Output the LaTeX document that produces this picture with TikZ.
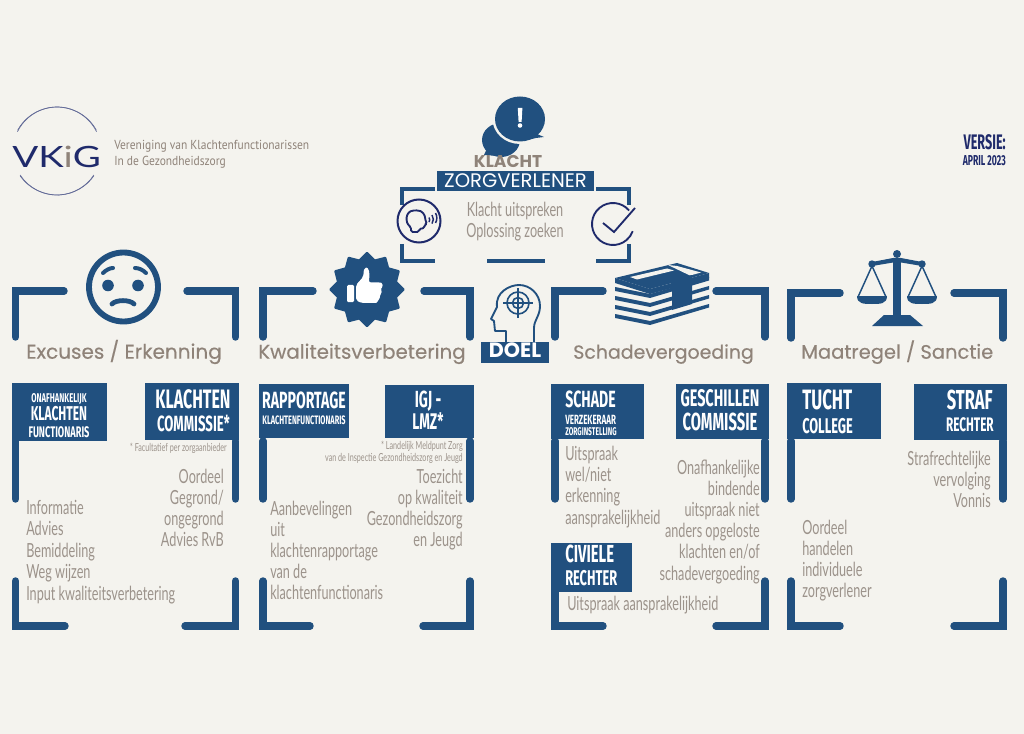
\documentclass[tikz,border=0pt]{standalone}
\usepackage{fontspec}
\usetikzlibrary{shapes.geometric}
\setmainfont{Lato}
\newfontfamily\condf[FakeStretch=0.65]{Lato}
\newfontfamily\condb[FakeStretch=0.6]{Fira Sans}
\newfontfamily\headf[FakeBold=0.35]{Poppins}
\newfontfamily\heavyf{Poppins}
\newfontfamily\logof[FakeStretch=0.88]{PT Sans}
\newfontfamily\vkf[FakeStretch=1.31]{Lato}
\definecolor{bg}{HTML}{F4F3EE}
\definecolor{vblue}{HTML}{21507F}
\definecolor{navy}{HTML}{1F2A6B}
\definecolor{grey}{HTML}{9C938B}
\definecolor{head}{HTML}{8F8379}
\newcommand\fs[1]{\fontsize{#1}{#1}\selectfont}
\tikzset{
 x=0.75pt,y=-0.75pt,
 br/.style={draw=vblue,line width=5.6pt,line cap=round,miter limit=10},
 brk/.style={draw=vblue,line width=3.4pt,line cap=butt},
 flag/.style={fill=vblue},
 body/.style={inner sep=0pt,yshift=-2pt,text=grey,font=\condf\fs{14.6}},
 note/.style={inner sep=0pt,yshift=-1pt,text=grey,font=\condf\fs{8.3}},
 hd/.style={inner sep=0pt,yshift=-2.5pt,text=head,anchor=mid west},
 fb/.style={inner sep=0pt,yshift=-2pt,text=white},
 icon/.style={fill=vblue,draw=none},
}
\newcommand\panel[6]{% xl xr topL-end topR-start ytop yvend
 \draw[br] (#3,#5) -- (#1,#5) -- (#1,#6);
 \draw[br] (#4,#5) -- (#2,#5) -- (#2,#6);
 \draw[br] (#1,441) -- (#1,499);
 \draw[br] (#2,441) -- (#2,499);
}
\begin{document}
\begin{tikzpicture}
\fill[bg] (0,0) rectangle (1024,734);
\useasboundingbox (0,0) rectangle (1024,734);

%% logo
\draw[navy!70,line width=.5pt] (57,151) +(-154:44) arc (-154:-26:44);
\draw[navy!70,line width=.5pt] (57,152) +(-151:45) arc (-151:-29:45);
\draw[navy!70,line width=.5pt] (57,151) +(147:44) arc (147:33:44);
\draw[navy!70,line width=.5pt] (57,150) +(145:45) arc (145:35:45);
\node[inner sep=0pt,anchor=base west,font=\vkf\fs{22},text=navy] (vk) at (12,168) {VK\textcolor{head}{i}G};
\node[inner sep=0pt,anchor=mid west,text=head,font=\logof\fs{9.8}] (lg1) at (114,146) {Vereniging van Klachtenfunctionarissen};
\node[inner sep=0pt,anchor=mid west,text=head,font=\logof\fs{9.8}] (lg2) at (114,162) {In de Gezondheidszorg};

%% version
\node[inner sep=0pt,yshift=-1.5pt,anchor=mid east,text=navy,font=\condb\bfseries\fs{15.8}] (ver) at (1006,144) {VERSIE:};
\node[inner sep=0pt,yshift=-1pt,anchor=mid east,text=navy,font=\condb\bfseries\fs{10.8}] (apr) at (1006,161) {APRIL 2023};

%% bubbles
\fill[icon] (501,140) ellipse[x radius=19,y radius=17];
\fill[icon] (484,155) -- (498,156) -- (490,142) -- cycle;
\fill[bg] (520,119) ellipse[x radius=27.5,y radius=25];
\fill[icon] (520,119) ellipse[x radius=25,y radius=22.5];
\fill[icon] (532,132) -- (544,137) -- (536,138) -- (528,140) -- cycle;
\fill[white] (517.8,108) -- (522.4,108) -- (521.6,122) -- (518.6,122) -- cycle;
\fill[white] (520,125.5) circle[radius=2.3];

%% klacht box
\node[inner sep=0pt,yshift=-1pt,anchor=mid,text=head,font=\heavyf\bfseries\fs{12.8}] (kl) at (508,163) {KLACHT};
\fill[vblue] (437,171) rectangle (594,191);
\node[inner sep=0pt,yshift=-1.5pt,anchor=mid,text=white,font=\heavyf\fs{14.7}] (zv) at (515.5,182) {ZORGVERLENER};
\draw[brk] (435,189) -- (402,189) -- (402,205);
\draw[brk] (596,189) -- (629,189) -- (629,205);
\draw[brk] (402,244) -- (402,261) -- (435,261);
\draw[brk] (629,244) -- (629,261) -- (596,261);
\draw[brk] (487,261) -- (545,261);
\node[body,anchor=mid] (ku) at (515,210) {Klacht uitspreken};
\node[body,anchor=mid] (oz) at (515,231) {Oplossing zoeken};

%% speaking head
\draw[navy,line width=1.5pt,fill=bg] (419,221) circle[radius=21.5];
\draw[navy,line width=1.4pt,line join=round,rounded corners=1.2pt]
 (411,232) -- (411,227) .. controls (405,223) and (405,211) .. (415,210.5) .. controls (423,210) and (425,216) .. (425,219) -- (427,224) -- (424.5,224.5) -- (424.5,228) -- (419,229) -- (419,232) -- cycle;
\draw[navy,line width=1.1pt] (429,217.5) arc (-35:35:4);
\draw[navy,line width=1.1pt] (432,215) arc (-35:35:7.5);
\draw[navy,line width=1.1pt] (435.5,213) arc (-30:30:10);

%% check
\draw[navy,line width=1.4pt] (613,224) +(-40:21) arc (-40:-340:21);
\draw[navy,line width=1.4pt,line join=miter] (603,223) -- (614,232) -- (635,208);

%% sad face
\draw[vblue,line width=4.4pt] (123.5,287) circle[radius=34.5];
\fill[icon] (108,285.5) circle[radius=5.8];
\fill[icon] (138,285.5) circle[radius=5.8];
\draw[vblue,line width=3pt,line cap=round] (103,273) .. controls (106,270) and (110,268) .. (113,268);
\draw[vblue,line width=3pt,line cap=round] (146,273) .. controls (143,270) and (139,268) .. (135,268);
\draw[vblue,line width=3.6pt,line cap=round] (112,304) .. controls (116,299.5) and (130,299.5) .. (134,304);

%% thumb badge
\node[star,star points=12,star point ratio=1.22,fill=vblue,draw=vblue,line join=round,line width=1.5pt,minimum size=55pt,inner sep=0pt] (badge) at (367,289.5) {};
\begin{scope}[shift={(347,267)},scale=0.9]
\fill[white,rounded corners=1pt] (0,20) rectangle (8,39);
\fill[white,rounded corners=1.5pt] (10,20) -- (18,11) -- (19,1) .. controls (24,0) and (26,7) .. (24,17) -- (36,17) .. controls (40,18) and (40,22) .. (37,24) .. controls (39,27) and (38,29) .. (36,30) .. controls (37,33) and (36,35) .. (34,36) .. controls (34,39) and (32,40) .. (30,40) -- (16,40) -- (10,37) -- cycle;
\end{scope}

%% money
\foreach \d in {36,27,18,9}{
 \fill[vblue] (615,{278+\d}) -- (650,{288+\d-3}) -- (709,{273+\d-5}) -- (709,{273+\d-1.5}) -- (650,{288+\d+1}) -- (615,{278+\d+4}) -- cycle;
}
\fill[vblue] (615,278) -- (677,263) -- (709,273) -- (650,289) -- cycle;
\fill[vblue] (615,278) -- (650,289) -- (709,273) -- (709,278) -- (650,294) -- (615,283) -- cycle;
\fill[bg] (630,277) -- (667,268.5) -- (674,270.5) -- (637,279.5) -- cycle;
\fill[bg] (668,265) -- (677,266) -- (701,272.5) -- (690,275.5) -- cycle;
\fill[vblue] (672,280) -- (692,275) -- (692,304) -- (672,310) -- cycle;

%% scales
\fill[icon] (893,258) rectangle (901,318);
\fill[icon] (897,254) circle[radius=4];
\fill[icon] (872,262) -- (893,258) -- (901,258) -- (922,262) -- (922,266) -- (901,262.5) -- (893,262.5) -- (872,266) -- cycle;
\fill[icon] (872,264) circle[radius=3.7];
\fill[icon] (922,264) circle[radius=3.7];
\fill[icon] (884,315) -- (910,315) -- (923,326) -- (872,326) -- cycle;
\draw[vblue,line width=1.1pt] (872,266) -- (858,297) (872,266) -- (886,297);
\draw[vblue,line width=1.1pt] (922,266) -- (908,297) (922,266) -- (936,297);
\fill[icon] (857,296) -- (887,296) .. controls (887,304) and (880,304) .. (872,304) .. controls (864,304) and (857,304) .. (857,296) -- cycle;
\fill[icon] (907,296) -- (937,296) .. controls (937,304) and (930,304) .. (922,304) .. controls (914,304) and (907,304) .. (907,296) -- cycle;

%% doel head
\draw[vblue,line width=1.4pt,line join=round] (506,342) -- (506,331) -- (495,331) -- (494,321) -- (491,319) -- (497,307) .. controls (495,292) and (510,285) .. (519,285) .. controls (530,285) and (540,294) .. (540,306) .. controls (540,316) and (534,320) .. (534,328) -- (534,342);
\draw[vblue,line width=1.2pt] (518,303) circle[radius=11];
\draw[vblue,line width=1.2pt] (518,303) circle[radius=5.5];
\draw[vblue,line width=1.2pt] (518,288) -- (518,318) (503,303) -- (533,303);
\fill[vblue] (481,342) rectangle (549,363);
\node[inner sep=0pt,yshift=-1.5pt,anchor=mid,text=white,font=\heavyf\bfseries\fs{15.5}] (doel) at (515,352.5) {DOEL};

%% panel 1
\panel{15.5}{235.5}{64}{187}{291}{337}
\draw[br] (15.5,581) -- (15.5,626) -- (65,626);
\draw[br] (235.5,581) -- (235.5,626) -- (185,626);
\fill[flag] (12,383) rectangle (107,441);
\fill[flag] (145,383) rectangle (239,440);
\node[hd,font=\headf\fs{15}] (h1) at (26,352) {Excuses / Erkenning};
\node[fb,anchor=mid,font=\condb\bfseries\fs{9.5}] (a1) at (59,396) {ONAFHANKELIJK};
\node[fb,anchor=mid,font=\condb\bfseries\fs{15}] (a2) at (59,414) {KLACHTEN};
\node[fb,anchor=mid,font=\condb\bfseries\fs{11.5}] (a3) at (59,431) {FUNCTIONARIS};
\node[fb,anchor=mid,font=\condb\bfseries\fs{20}] (b1) at (193,402) {KLACHTEN};
\node[fb,anchor=mid,font=\condb\bfseries\fs{16.5}] (b2) at (193.5,425) {COMMISSIE*};
\node[note,anchor=mid east] (n1) at (227,447) {* Facultatief per zorgaanbieder};
\foreach \t [count=\i] in {Informatie,Advies,Bemiddeling,Weg wijzen,Input kwaliteitsverbetering}
 \node[body,anchor=mid west] (pa\i) at (26,{508.5+(\i-1)*21.4}) {\t};
\foreach \t [count=\i] in {Oordeel,Gegrond/,ongegrond,Advies RvB}
 \node[body,anchor=mid east] (pb\i) at (224,{477+(\i-1)*21.2}) {\t};

%% panel 2
\panel{263}{470}{313}{424}{291}{337}
\draw[br] (263,581) -- (263,626) -- (310,626);
\draw[br] (470,581) -- (470,626) -- (423,626);
\fill[flag] (259,384) rectangle (349,438);
\fill[flag] (385,385) rectangle (474,438);
\node[hd,font=\headf\fs{14.85}] (h2) at (258,352) {Kwaliteitsverbetering};
\node[fb,anchor=mid,font=\condb\bfseries\fs{17.6}] (c1) at (304,402) {RAPPORTAGE};
\node[fb,anchor=mid,font=\condb\bfseries\fs{9.2}] (c2) at (304,418) {KLACHTENFUNCTIONARIS};
\node[fb,anchor=mid,font=\condb\bfseries\fs{17.5}] (d1) at (428,401) {IGJ -};
\node[fb,anchor=mid,font=\condb\bfseries\fs{17}] (d2) at (428,423) {LMZ*};
\node[note,anchor=mid east] (n2) at (463,445) {* Landelijk Meldpunt Zorg};
\node[note,anchor=mid east] (n3) at (463,457) {van de Inspectie Gezondheidszorg en Jeugd};
\foreach \t [count=\i] in {Aanbevelingen,uit,klachtenrapportage,van de,klachtenfunctionaris}
 \node[body,anchor=mid west] (pc\i) at (270,{509+(\i-1)*21.2}) {\t};
\foreach \t [count=\i] in {Toezicht,op kwaliteit,Gezondheidszorg,en Jeugd}
 \node[body,anchor=mid east] (pd\i) at (463,{477+(\i-1)*21.2}) {\t};

%% panel 3
\panel{555}{765}{603}{716}{291}{337}
\draw[br] (555,592) -- (555,626) -- (603,626);
\draw[br] (765,581) -- (765,626) -- (716,626);
\fill[flag] (551,384) rectangle (644,439);
\fill[flag] (676,384) rectangle (769,439);
\fill[flag] (551,543) rectangle (632,592);
\node[hd,font=\headf\fs{14.2}] (h3) at (573,352) {Schadevergoeding};
\node[fb,anchor=mid west,font=\condb\bfseries\fs{17.6}] (e1) at (565,401) {SCHADE};
\node[fb,anchor=mid west,font=\condb\bfseries\fs{10}] (e2) at (565,418) {VERZEKERAAR};
\node[fb,anchor=mid west,font=\condb\bfseries\fs{8.4}] (e3) at (565,429.5) {ZORGINSTELLING};
\node[fb,anchor=mid,font=\condb\bfseries\fs{18}] (f1) at (720,400) {GESCHILLEN};
\node[fb,anchor=mid,font=\condb\bfseries\fs{18.5}] (f2) at (720,424) {COMMISSIE};
\node[fb,anchor=mid west,font=\condb\bfseries\fs{18.5}] (g1) at (565,556) {CIVIELE};
\node[fb,anchor=mid west,font=\condb\bfseries\fs{16}] (g2) at (565,579) {RECHTER};
\foreach \t [count=\i] in {Uitspraak,wel/niet,erkenning,aansprakelijkheid}
 \node[body,anchor=mid west] (pe\i) at (565,{454.5+(\i-1)*21.2}) {\t};
\foreach \t [count=\i] in {Onafhankelijke,bindende,uitspraak niet,anders opgeloste,klachten en/of,schadevergoeding}
 \node[body,anchor=mid east] (pf\i) at (760,{468+(\i-1)*21.2}) {\t};
\node[body,anchor=mid west] (pg) at (567,604) {Uitspraak aansprakelijkheid};

%% panel 4
\panel{791}{1003}{840}{954}{293}{338}
\draw[br] (791,581) -- (791,626) -- (840,626);
\draw[br] (1003,581) -- (1003,626) -- (954,626);
\fill[flag] (787,383) rectangle (881,439);
\fill[flag] (914,384) rectangle (1007,440);
\node[hd,font=\headf\fs{14.6}] (h4) at (801,352) {Maatregel / Sanctie};
\node[fb,anchor=mid west,font=\condb\bfseries\fs{21}] (t1) at (802,403) {TUCHT};
\node[fb,anchor=mid west,font=\condb\bfseries\fs{16}] (t2) at (802,427) {COLLEGE};
\node[fb,anchor=mid east,font=\condb\bfseries\fs{20.6}] (s1) at (993,403) {STRAF};
\node[fb,anchor=mid east,font=\condb\bfseries\fs{14.7}] (s2) at (994,425) {RECHTER};
\foreach \t [count=\i] in {Oordeel,handelen,individuele,zorgverlener}
 \node[body,anchor=mid west] (ph\i) at (802,{528+(\i-1)*21.2}) {\t};
\foreach \t [count=\i] in {Strafrechtelijke,vervolging,Vonnis}
 \node[body,anchor=mid east] (pi\i) at (991,{459+(\i-1)*21.2}) {\t};
\end{tikzpicture}
\end{document}
